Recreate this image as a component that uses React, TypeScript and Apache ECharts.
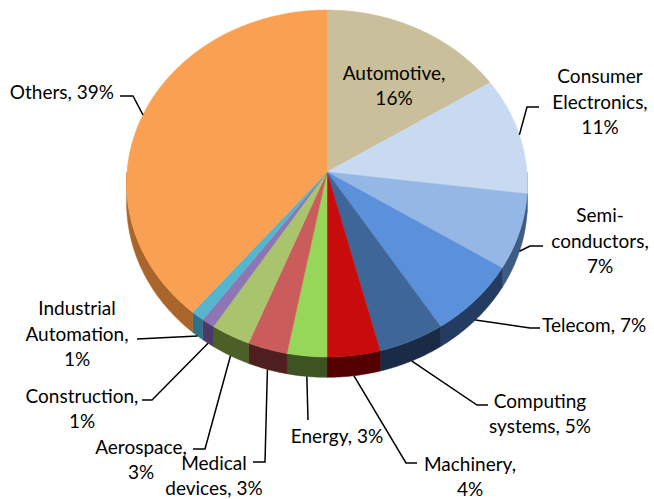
import React, { useEffect, useRef } from "react";
import * as echarts from "echarts";

// ---- data ----
const categories = [
  "Automotive",
  "Consumer Electronics",
  "Semiconductors",
  "Telecom",
  "Computing systems",
  "Machinery",
  "Energy",
  "Medical devices",
  "Aerospace",
  "Construction",
  "Industrial Automation",
  "Others",
];
const shares = [16, 11, 7, 7, 5, 4, 3, 3, 3, 1, 1, 39];
const labelNames = [
  "Automotive,",
  "Consumer\nElectronics,",
  "Semi-\nconductors,",
  "Telecom,",
  "Computing\nsystems,",
  "Machinery,",
  "Energy,",
  "Medical\ndevices,",
  "Aerospace,",
  "Construction,",
  "Industrial\nAutomation,",
  "Others,",
];
const labelSeparators = ["\n", "\n", "\n", " ", " ", "\n", " ", " ", "\n", "\n", "\n", " "];

// ---- styles ----
const topColors = [
  "#C9BF9A", "#C7DAF1", "#95B7E5", "#5B91DA", "#3F6699", "#C80C0C",
  "#96D759", "#CB5C5C", "#A9C46C", "#8D76B3", "#56B5CE", "#FAA052",
];
const sideColors = [
  "#7D775F", "#6A7F9A", "#3E5A85", "#243C62", "#1A2B45", "#550000",
  "#3D5321", "#4F1E1E", "#4B5F26", "#4B3A68", "#2F7185", "#A9652C",
];
const labelLayout: any[] = [
  { x: 394, y: 85, align: "center" },
  { x: 600, y: 101, align: "center", elbow: [527, 107], end: [539, 107] },
  { x: 600, y: 240, align: "center", elbow: [530, 246], end: [543, 246] },
  { x: 542, y: 324, align: "left", elbow: [530, 328], end: [540, 328] },
  { x: 540, y: 413, align: "center", elbow: [477, 405], end: [488, 405] },
  { x: 470, y: 476, align: "center", elbow: [406, 463], end: [417, 463] },
  { x: 337, y: 435, align: "center", elbow: [308, 420], end: [308, 420] },
  { x: 214, y: 475, align: "center", elbow: [265, 462], end: [253, 462] },
  { x: 141, y: 459, align: "center", elbow: [205, 449], end: [193, 449] },
  { x: 82, y: 408, align: "center", elbow: [152, 400], end: [142, 400] },
  { x: 77, y: 333, align: "center", elbow: [137, 339], end: [137, 339] },
  { x: 114, y: 91, align: "right", elbow: [133, 96], end: [120, 96] },
];

// perspective geometry of the tilted disk
const CX = 327;
const CY = 172;
const RX = 200;
const RY = 172.7;
const PERSP = -0.0663;
const DEPTH = 19;

function proj(t: number, drop: number): number[] {
  const u = Math.sin(t);
  const v = -Math.cos(t);
  const d = 1 + PERSP * v;
  return [CX + (RX * u) / d, CY + (RY * v) / d + (drop * DEPTH) / d];
}

function arc(t0: number, t1: number, drop: number): number[][] {
  const pts: number[][] = [];
  const n = Math.max(2, Math.ceil(((t1 - t0) * 180) / Math.PI / 0.5));
  for (let i = 0; i <= n; i++) pts.push(proj(t0 + ((t1 - t0) * i) / n, drop));
  return pts;
}

const total = shares.reduce((a, b) => a + b, 0);
const starts: number[] = [];
{
  let acc = 0;
  for (const s of shares) {
    starts.push(acc);
    acc += s;
  }
}

export default function App() {
  const ref = useRef<HTMLDivElement>(null);
  useEffect(() => {
    document.body.style.margin = "0";
    const chart = echarts.init(ref.current!, null, { renderer: "svg" });
    const font = "Lato, 'Open Sans', sans-serif";
    chart.setOption({
      animation: false,
      backgroundColor: "#ffffff",
      series: [
        {
          type: "custom",
          coordinateSystem: "none",
          silent: true,
          data: shares.map((s, i) => ({ name: categories[i], value: [s, starts[i]] })),
          renderItem: (params: any, api: any) => {
            const i = params.dataIndex;
            const val = api.value(0);
            const start = api.value(1);
            const t0 = (start / total) * Math.PI * 2;
            const t1 = ((start + val) / total) * Math.PI * 2;
            const children: any[] = [];
            // side wall (front half only)
            const s0 = Math.max(t0, Math.PI / 2);
            const s1 = Math.min(t1, (Math.PI * 3) / 2);
            if (s1 > s0) {
              const pts = arc(s0, s1, 0).concat(arc(s0, s1, 1).reverse());
              children.push({
                type: "polygon",
                z2: 1,
                shape: { points: pts },
                style: { fill: sideColors[i], stroke: sideColors[i], lineWidth: 0.5 },
              });
            }
            // top face
            const topPts = [[CX, CY]].concat(arc(t0, t1, 0));
            children.push({
              type: "polygon",
              z2: 2,
              shape: { points: topPts },
              style: { fill: topColors[i], stroke: topColors[i], lineWidth: 0.5 },
            });
            // leader line
            const lay = labelLayout[i];
            if (lay.elbow) {
              const mid = (t0 + t1) / 2;
              const v = -Math.cos(mid);
              const anchor = proj(mid, v > 0 ? 1 : 0);
              children.push({
                type: "polyline",
                z2: 5,
                shape: { points: [anchor, lay.elbow, lay.end] },
                style: { stroke: "#000", lineWidth: 1.5, fill: null },
              });
            }
            children.push({
              type: "text",
              z2: 6,
              style: {
                text: labelNames[i] + labelSeparators[i] + val + "%",
                x: lay.x,
                y: lay.y,
                align: lay.align,
                verticalAlign: "middle",
                fill: "#000",
                fontFamily: font,
                fontSize: 19,
                lineHeight: 25.5,
              },
            });
            return { type: "group", children };
          },
        },
      ],
    });
    return () => chart.dispose();
  }, []);
  return <div ref={ref} style={{ width: 654, height: 499 }} />;
}
